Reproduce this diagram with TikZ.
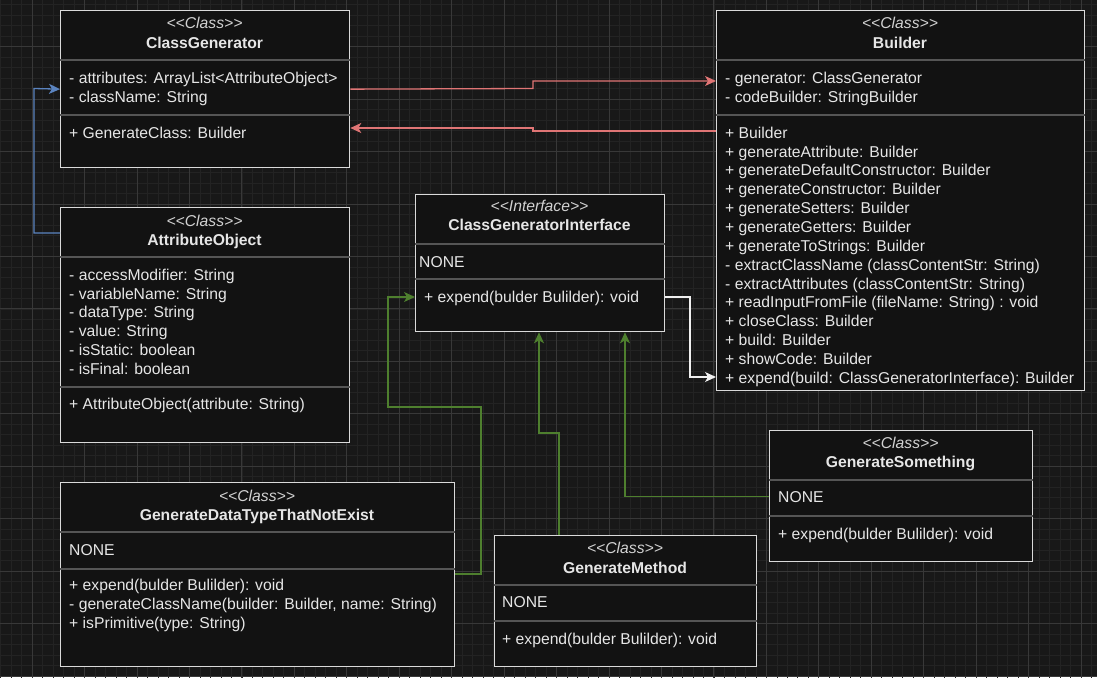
\documentclass[tikz,border=0pt]{standalone}
\usepackage{fontspec}
\newfontfamily\umlfamily{Liberation Sans}
\usetikzlibrary{arrows.meta}

\definecolor{canvas}{HTML}{181818}
\definecolor{gridminor}{HTML}{232323}
\definecolor{gridmajor}{HTML}{383838}
\definecolor{boxfill}{HTML}{121212}
\definecolor{boxline}{HTML}{DADADA}
\definecolor{sepgray}{HTML}{555555}
\definecolor{umltext}{HTML}{E6E6E6}
\definecolor{stereotext}{HTML}{D2D2D2}
\definecolor{assocred}{HTML}{E07575}
\definecolor{depblue}{HTML}{5B84C0}
\definecolor{implgreen}{HTML}{4E7F2E}
\definecolor{linkwhite}{HTML}{F0F0F0}

\newcommand{\umlfont}{\umlfamily\fontsize{15.7}{18.85}\selectfont}

\tikzset{
	classbox/.style={draw=boxline, fill=boxfill, line width=1.3pt, anchor=north west, inner sep=0pt},
	sepline/.style={draw=sepgray, line width=1.1pt},
	stereo/.style={anchor=base, inner sep=0pt, text=stereotext, font=\umlfont\itshape},
	classname/.style={anchor=base, inner sep=0pt, text=umltext, font=\umlfont\bfseries},
	% members: placed at the baseline of the last line
	members/.style={anchor=base west, inner sep=0pt, align=left, text=umltext, font=\umlfont},
	link/.style={line width=1.3pt, -{Stealth[length=11pt,width=10pt,inset=3pt]}},
}

\begin{document}
\begin{tikzpicture}[x=1pt, y=-1pt]
	\useasboundingbox (0,0) rectangle (1097,677);
	% background grid
	\begin{scope}
		\clip (0,0) rectangle (1097,677);
		\fill[canvas] (0,0) rectangle (1097,677);
		\begin{scope}[shift={(32pt,-99pt)}]
			\draw[gridminor, line width=0.6pt] (-40pt,-600pt) grid[step=10.49pt] (1100pt,120pt);
			\draw[gridmajor, line width=0.8pt] (-40pt,-600pt) grid[step=52.45pt] (1100pt,120pt);
		\end{scope}
	\end{scope}

	% ClassGenerator
	\node[classbox, minimum width=289pt, minimum height=157pt] (gen) at (60,10) {};
	\draw[sepline] (gen.west |- 0,60) -- (gen.east |- 0,60);
	\draw[sepline] (gen.west |- 0,115) -- (gen.east |- 0,115);
	\node[stereo] (genst) at (204.5,28.5) {<<Class>>};
	\node[classname] (genname) at (204.5,48.5) {ClassGenerator};
	\node[members] (genattr) at (69,102.35) {- attributes: ArrayList<AttributeObject>\\- className: String};
	\node[members] (genops) at (69,138.5) {+ GenerateClass: Builder};

	% Builder
	\node[classbox, minimum width=368pt, minimum height=380pt] (bld) at (716,10) {};
	\draw[sepline] (bld.west |- 0,60) -- (bld.east |- 0,60);
	\draw[sepline] (bld.west |- 0,115) -- (bld.east |- 0,115);
	\node[stereo] (bldst) at (900,28.5) {<<Class>>};
	\node[classname] (bldname) at (900,48.5) {Builder};
	\node[members] (bldattr) at (725,102.35) {- generator: ClassGenerator\\- codeBuilder: StringBuilder};
	\node[members] (bldops) at (725,383.25) {+ Builder\\+ generateAttribute: Builder\\+ generateDefaultConstructor: Builder\\+ generateConstructor: Builder\\+ generateSetters: Builder\\+ generateGetters: Builder\\+ generateToStrings: Builder\\- extractClassName (classContentStr: String)\\- extractAttributes (classContentStr: String)\\+ readInputFromFile (fileName: String) : void\\+ closeClass: Builder\\+ build: Builder\\+ showCode: Builder\\+ expend(build: ClassGeneratorInterface): Builder};

	% AttributeObject
	\node[classbox, minimum width=289pt, minimum height=235pt] (attr) at (60,207) {};
	\draw[sepline] (attr.west |- 0,257) -- (attr.east |- 0,257);
	\draw[sepline] (attr.west |- 0,387) -- (attr.east |- 0,387);
	\node[stereo] (attrst) at (204.5,226) {<<Class>>};
	\node[classname] (attrname) at (204.5,245) {AttributeObject};
	\node[members] (attrattr) at (69,374.45) {- accessModifier: String\\- variableName: String\\- dataType: String\\- value: String\\- isStatic: boolean\\- isFinal: boolean};
	\node[members] (attrops) at (69,409.5) {+ AttributeObject(attribute: String)};

	% ClassGeneratorInterface
	\node[classbox, minimum width=249pt, minimum height=137pt] (ifc) at (415,194) {};
	\draw[sepline] (ifc.west |- 0,244) -- (ifc.east |- 0,244);
	\draw[sepline] (ifc.west |- 0,279) -- (ifc.east |- 0,279);
	\node[stereo] (ifcst) at (539.5,211.7) {<<Interface>>};
	\node[classname] (ifcname) at (539.5,230.7) {ClassGeneratorInterface};
	\node[members] (ifcattr) at (419,267) {NONE};
	\node[members] (ifcops) at (424,302.5) {+ expend(bulder Bulilder): void};

	% GenerateDataTypeThatNotExist
	\node[classbox, minimum width=394pt, minimum height=184pt] (gdt) at (60,482) {};
	\draw[sepline] (gdt.west |- 0,532) -- (gdt.east |- 0,532);
	\draw[sepline] (gdt.west |- 0,569) -- (gdt.east |- 0,569);
	\node[stereo] (gdtst) at (257,501) {<<Class>>};
	\node[classname] (gdtname) at (257,520) {GenerateDataTypeThatNotExist};
	\node[members] (gdtattr) at (69,555) {NONE};
	\node[members] (gdtops) at (69,628.2) {+ expend(bulder Bulilder): void\\- generateClassName(builder: Builder, name: String)\\+ isPrimitive(type: String)};

	% GenerateMethod
	\node[classbox, minimum width=262pt, minimum height=131pt] (gm) at (494,535) {};
	\draw[sepline] (gm.west |- 0,585) -- (gm.east |- 0,585);
	\draw[sepline] (gm.west |- 0,621) -- (gm.east |- 0,621);
	\node[stereo] (gmst) at (625,553.3) {<<Class>>};
	\node[classname] (gmname) at (625,573) {GenerateMethod};
	\node[members] (gmattr) at (502,607.5) {NONE};
	\node[members] (gmops) at (502,644.2) {+ expend(bulder Bulilder): void};

	% GenerateSomething
	\node[classbox, minimum width=263pt, minimum height=131pt] (gs) at (769,430) {};
	\draw[sepline] (gs.west |- 0,480) -- (gs.east |- 0,480);
	\draw[sepline] (gs.west |- 0,516) -- (gs.east |- 0,516);
	\node[stereo] (gsst) at (900.5,448.3) {<<Class>>};
	\node[classname] (gsname) at (900.5,467.5) {GenerateSomething};
	\node[members] (gsattr) at (778,502.5) {NONE};
	\node[members] (gsops) at (778,539.5) {+ expend(bulder Bulilder): void};

	% connectors
	\draw[link, assocred] (gen.east) -- (533,88.5) -- (533,81) -- (bld.west |- 0,81);
	\draw[link, assocred] (bld.west |- 0,131) -- (533,131) -- (533,128) -- (gen.east |- 0,128);
	\draw[link, depblue] (attr.west |- 0,233) -| (34,88.5) -- (gen.west);
	\draw[link, linkwhite] (ifc.east |- 0,297) -| (690,377) -- (bld.west |- 0,377);
	\draw[link, implgreen] (gdt.east |- 0,574) -| (481,407) -| (388,297) -- (ifc.west |- 0,297);
	\draw[link, implgreen] (gm.north -| 559,0) |- (539,433) -- (ifc.south -| 539,0);
	\draw[link, implgreen] (gs.west) -| (ifc.south -| 625,0);
\end{tikzpicture}
\end{document}
